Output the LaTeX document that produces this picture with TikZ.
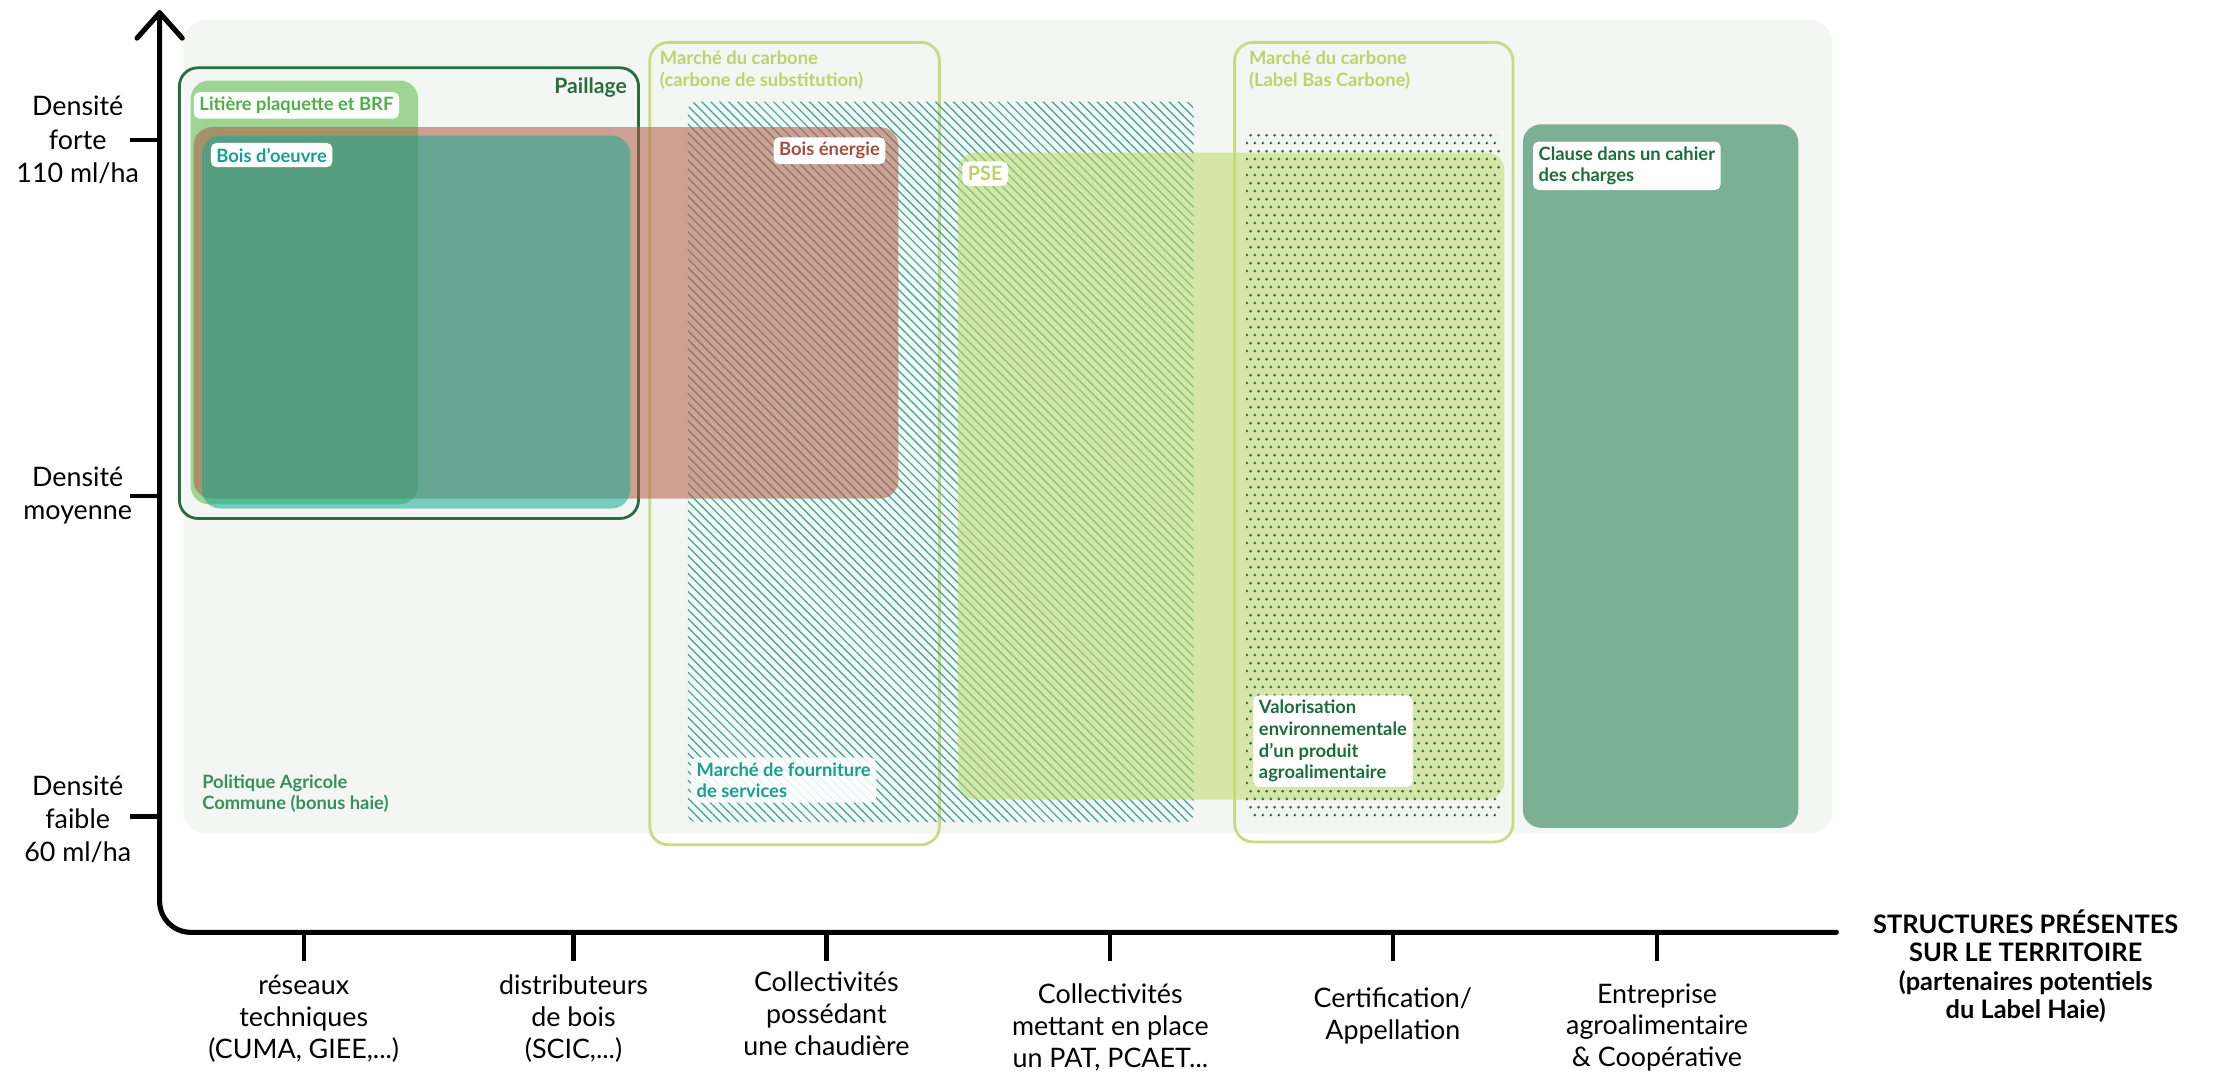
\documentclass[tikz,border=0pt]{standalone}
\usepackage{fontspec}
\setmainfont{Lato}
\usetikzlibrary{patterns,patterns.meta}

\definecolor{bgpanel}{HTML}{F4F6F3}
\definecolor{paillc}{HTML}{2B6B40}
\definecolor{carbc}{HTML}{C8DC84}
\definecolor{carbt}{HTML}{BCD36C}
\definecolor{hatchc}{HTML}{34A597}
\definecolor{dotc}{HTML}{1C7A3C}
\definecolor{litc}{HTML}{59BA49}
\definecolor{litt}{HTML}{4DAF4A}
\definecolor{enec}{HTML}{B05A46}
\definecolor{enet}{HTML}{A54E3B}
\definecolor{oeuvc}{HTML}{12AB93}
\definecolor{oeuvt}{HTML}{17A08D}
\definecolor{psec}{HTML}{BFD969}
\definecolor{clausec}{HTML}{7BB094}
\definecolor{dkgreen}{HTML}{1E6B3C}
\definecolor{pacc}{HTML}{36905A}

\pgfdeclarepatternformonly{stagdots}{\pgfqpoint{0pt}{0pt}}{\pgfqpoint{5.8pt}{11.2pt}}{\pgfqpoint{5.8pt}{11.2pt}}{%
  \pgfpathcircle{\pgfqpoint{1.45pt}{2.8pt}}{1.1pt}%
  \pgfpathcircle{\pgfqpoint{4.35pt}{8.4pt}}{1.1pt}%
  \pgfusepath{fill}}

\tikzset{
  boxfont/.style={font=\fontsize{13}{15.3}\selectfont\bfseries},
  lbl/.style={boxfont, fill=white, rounded corners=4pt, inner xsep=4pt, inner ysep=3.5pt, align=left},
  outl/.style={line width=2pt, rounded corners=13pt},
  softfill/.style={fill opacity=0.55, rounded corners=13pt},
  axisline/.style={line width=3.6pt, line cap=round, line join=round},
  ylab/.style={font=\fontsize{19}{23.5}\selectfont, align=center},
  xlab/.style={font=\fontsize{19}{22.6}\selectfont, align=center, anchor=north, inner sep=0pt},
  tickline/.style={line width=3pt},
}

\begin{document}
\begin{tikzpicture}[x=1pt,y=-1pt]
\useasboundingbox (0,0) rectangle (1568,759);
\fill[white] (0,0) rectangle (1568,759);

% background panel
\fill[bgpanel, rounded corners=16pt] (130,14) rectangle (1297,590);

% outlines
\draw[outl, paillc] (127,48) rectangle (452,367);
\draw[outl, carbc] (460,30) rectangle (665,598);
\draw[outl, carbc] (874,30) rectangle (1071,596);

% hatch: marché de fourniture de services
\fill[pattern={Lines[angle=-45,distance=4.5pt,line width=0.85pt]}, pattern color=hatchc, rounded corners=6pt] (487,72) rectangle (845,582);

% filled zones
\fill[softfill, litc] (135,57) rectangle (296,357);
\fill[softfill, enec] (137,90) rectangle (636,353);
\fill[softfill, oeuvc] (143,96) rectangle (446,360);
\fill[softfill, psec] (678,108) rectangle (1065,566);

% dots
\fill[pattern=stagdots, pattern color=dotc, rounded corners=10pt] (882,92) rectangle (1062,581);

% clause
\fill[clausec, rounded corners=13pt] (1078,88) rectangle (1273,586);

% labels
\node[font=\fontsize{15}{18}\selectfont\bfseries, text=paillc, anchor=north east, inner sep=0pt] (paill) at (444,55) {Paillage};
\node[lbl, text=litt, anchor=north west] (litl) at (137,65) {Litière plaquette et BRF};
\node[lbl, text=enet, anchor=north east] (enel) at (627,97) {Bois énergie};
\node[lbl, text=oeuvt, anchor=north west] (oeuvl) at (149,101) {Bois d’oeuvre};
\node[boxfont, text=carbt, anchor=north west, inner sep=0pt, align=left] (carb1) at (467,36) {Marché du carbone\\(carbone de substitution)};
\node[boxfont, text=carbt, anchor=north west, inner sep=0pt, align=left] (carb2) at (884,36) {Marché du carbone\\(Label Bas Carbone)};
\node[lbl, text=carbt, anchor=north west, font=\fontsize{14}{16}\selectfont\bfseries] (psel) at (681,114) {PSE};
\node[lbl, text=oeuvt, anchor=north west, fill opacity=0.88, text opacity=1] (fourl) at (489,536) {Marché de fourniture\\de services};
\node[lbl, text=dkgreen, anchor=north west] (valol) at (887,492) {Valorisation\\environnementale\\d’un produit\\agroalimentaire};
\node[lbl, text=dkgreen, anchor=north west] (clausel) at (1085,100) {Clause dans un cahier\\des charges};
\node[boxfont, text=pacc, anchor=north west, inner sep=0pt, align=left] (pacl) at (143,548) {Politique Agricole\\Commune (bonus haie)};

% axes
\coordinate (ytop) at (113,9);
\coordinate (origin) at (113,660);
\coordinate (xend) at (1300,660);
\coordinate (arrl) at (97,27);
\coordinate (arrr) at (129,27);
\draw[axisline, rounded corners=22pt] (ytop) -- (origin) -- (xend);
\draw[axisline] (arrl) -- (ytop) -- (arrr);

% y ticks and labels
\foreach \yy/\nm in {99/yt1,351/yt2,578/yt3}{
  \coordinate (\nm) at (113,\yy);
  \coordinate (\nm s) at (92,\yy);
  \draw[tickline] (\nm s) -- (\nm);
}
\node[ylab] (yl1) at (55,99) {Densité\\forte\\110 ml/ha};
\node[ylab] (yl2) at (55,351) {Densité\\moyenne};
\node[ylab] (yl3) at (55,580) {Densité\\faible\\60 ml/ha};

% x ticks
\foreach \xx/\nm in {215/xt1,406/xt2,585/xt3,786/xt4,986/xt5,1173/xt6}{
  \coordinate (\nm) at (\xx,660);
  \coordinate (\nm e) at (\xx,680);
  \draw[tickline] (\nm) -- (\nm e);
}
\node[xlab] (xl1) at (215,690) {réseaux\\techniques\\(CUMA, GIEE,...)};
\node[xlab] (xl2) at (406,690) {distributeurs\\de bois\\(SCIC,...)};
\node[xlab] (xl3) at (585,688) {Collectivités\\possédant\\une chaudière};
\node[xlab] (xl4) at (786,696) {Collectivités\\mettant en place\\un PAT, PCAET...};
\node[xlab] (xl5) at (986,699) {Certification/\\Appellation};
\node[xlab] (xl6) at (1173,696) {Entreprise\\agroalimentaire\\\& Coopérative};

% axis title
\node[font=\fontsize{18}{20}\selectfont\bfseries, align=center, anchor=north, inner sep=0pt] (xtitle) at (1434,644) {STRUCTURES PRÉSENTES\\SUR LE TERRITOIRE\\(partenaires potentiels\\du Label Haie)};
\end{tikzpicture}
\end{document}
